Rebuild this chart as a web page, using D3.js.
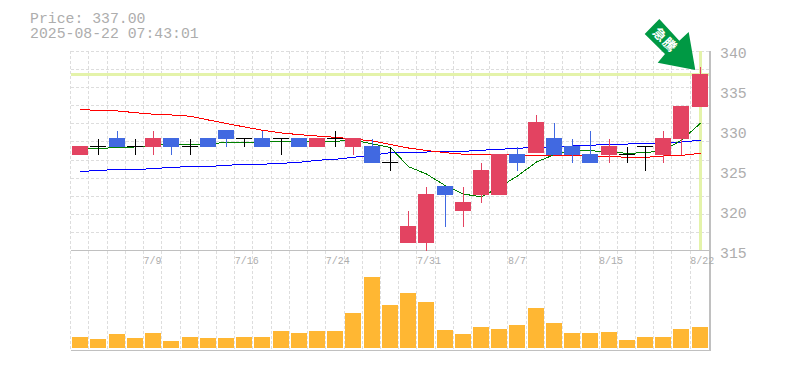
<!DOCTYPE html>
<html>
<head>
<meta charset="utf-8">
<script src="https://cdn.jsdelivr.net/npm/d3@7"></script>
<style>
  html, body { margin: 0; padding: 0; background: #fff; }
  svg { display: block; }
  text { font-family: "Liberation Mono", monospace; fill: #adadad; }
</style>
</head>
<body>
<div id="chart"></div>
<script>
var dates = ["7/3","7/4","7/7","7/8","7/9","7/10","7/11","7/14","7/15","7/16","7/17","7/18","7/22","7/23","7/24","7/25","7/28","7/29","7/30","7/31","8/1","8/4","8/5","8/6","8/7","8/8","8/12","8/13","8/14","8/15","8/18","8/19","8/20","8/21","8/22"];
var opens =  [327,328,329,328,328,329,328,329,330,329,329,329,329,328,329,328,328,326,316,316,323,320,322,322,327,327.3,329,328,327,327,327,328,327,329,333];
var closes = [328,328,328,328,329,328,328,328,329,329,328,329,328,329,329,329,326,326,318,322,322,321,325,327,326,331,327,327,326,328,327,328,329,333,337];
var highs =  [328,329,330,329,330,329,329,329,330,329,330,329,329,329,330,329,329,328,320,323,323,323,326,327,328,332,331,329,330,329,328,328,330,333,338];
var lows =   [327,327,328,327,327,327,327,328,328,328,328,327,328,328,328,327,326,325,316,315,318,318,321,322,325,327.3,327,326,326,326,326,325,326,327,333];
var volumes = [11,9,14,10,15,7,11,10,10,11,11,17,15,17,17,35,71,43,55,46,18,14,21,19,23,40,25,15,15,16,8,11,11,19,21];
var maShort = [327.69,327.73,327.9,327.94,328.13,328.26,328.28,328.31,328.53,328.53,328.56,328.65,328.69,328.56,328.65,328.81,328.31,327.88,325.48,324.56,323.1,322.06,321.69,322.94,324.31,326.06,327,327.48,327.48,327.31,327.15,327.23,327.48,328.81,330.9];
var maMid = [332.63,332.5,332.44,332.23,332.03,331.94,331.78,331.31,330.88,330.44,330.03,329.69,329.48,329.31,329.15,328.94,328.69,328.25,327.81,327.5,327.23,327.03,326.94,326.94,326.94,326.88,326.88,326.88,326.81,326.75,326.65,326.65,326.81,326.88,327.15];
var maLong = [324.86,325.03,325.1,325.13,325.23,325.4,325.48,325.5,325.65,325.78,325.78,325.9,326.03,326.28,326.4,326.65,326.9,327.23,327.28,327.31,327.38,327.4,327.53,327.65,327.78,327.88,327.94,328.06,328.15,328.28,328.31,328.4,328.44,328.56,328.78];
var priceTicks = [315,320,325,330,335,340];
var dateTicks = ["7/9","7/16","7/24","7/31","8/7","8/15","8/22"];
var lastPrice = 337;
var titleLines = ["Price: 337.00", "2025-08-22 07:43:01"];
var badge = "急騰";

var svgWidth = 785, svgHeight = 370;
var left = 70.7, right = 710;
var priceTop = 50.5, priceBottom = 250.5, volTop = 277, volBottom = 348, panelBottom = 350.5;
var gridRows = 11;
var bodyWidth = 16;

var svg = d3.select("#chart").append("svg")
  .attr("width", svgWidth)
  .attr("height", svgHeight);

var x = d3.scaleBand().domain(dates).range([left, left + 18.22 * dates.length]);
var bodyX = d => Math.round(x(d) + 1.5);
var cx = d => bodyX(d) + 8.5;
var y = d3.scaleLinear().domain([315, 340]).range([priceBottom, priceTop]);
var yVol = d3.scaleLinear().domain([0, d3.max(volumes)]).range([volBottom, volTop]);

// grid
var grid = svg.append("g").attr("stroke", "#ddd").attr("stroke-dasharray", "3,2").attr("shape-rendering", "crispEdges");
grid.selectAll(".vgrid").data(dates).enter().append("line")
  .attr("x1", d => x(d)).attr("x2", d => x(d))
  .attr("y1", priceTop).attr("y2", panelBottom);
grid.selectAll(".hgrid").data(d3.range(gridRows)).enter().append("line")
  .attr("x1", left).attr("x2", right)
  .attr("y1", i => Math.round(priceTop + i * (priceBottom - priceTop) / gridRows) + 0.5)
  .attr("y2", i => Math.round(priceTop + i * (priceBottom - priceTop) / gridRows) + 0.5);

// current price cross
var cross = svg.append("g").attr("stroke", "#e4f3aa").attr("stroke-width", 3).attr("shape-rendering", "crispEdges");
cross.append("line").attr("x1", left).attr("x2", right).attr("y1", y(lastPrice)).attr("y2", y(lastPrice));
cross.append("line").attr("x1", cx("8/22")).attr("x2", cx("8/22")).attr("y1", priceTop).attr("y2", priceBottom);

// panel borders
var border = svg.append("g").attr("stroke", "#c0c0c0").attr("stroke-width", 1.5).attr("shape-rendering", "crispEdges");
border.append("line").attr("x1", left).attr("x2", right).attr("y1", priceBottom).attr("y2", priceBottom);
border.append("line").attr("x1", left).attr("x2", right).attr("y1", panelBottom).attr("y2", panelBottom);
border.append("line").attr("x1", right).attr("x2", right).attr("y1", priceTop).attr("y2", panelBottom);

// volume
svg.selectAll(".vol").data(volumes).enter().append("rect")
  .attr("class", "vol")
  .attr("x", (d, i) => bodyX(dates[i]))
  .attr("y", d => yVol(d))
  .attr("width", bodyWidth)
  .attr("height", d => volBottom - yVol(d))
  .attr("fill", "#ffb733")
  .attr("shape-rendering", "crispEdges");

// moving averages go under the candles
var maLine = d3.line().x((d, i) => cx(dates[i])).y(d => y(d));
[[maLong, "#0000ff"], [maMid, "#ff0000"], [maShort, "#008000"]].forEach(function(s) {
  svg.append("path")
    .attr("d", maLine(s[0]))
    .attr("fill", "none")
    .attr("stroke", s[1])
    .attr("shape-rendering", "crispEdges");
});

// candles
function candleColor(i) {
  if (closes[i] > opens[i]) return "#e34361";
  if (closes[i] < opens[i]) return "#4169e1";
  return "#000";
}
svg.selectAll(".wick").data(dates).enter().append("line")
  .attr("class", "wick")
  .attr("x1", d => cx(d)).attr("x2", d => cx(d))
  .attr("y1", (d, i) => y(highs[i]))
  .attr("y2", (d, i) => y(lows[i]))
  .attr("stroke", (d, i) => candleColor(i))
  .attr("shape-rendering", "crispEdges");
svg.selectAll(".body").data(dates).enter().append("rect")
  .attr("class", "body")
  .attr("x", d => bodyX(d))
  .attr("y", (d, i) => Math.floor(y(Math.max(opens[i], closes[i]))))
  .attr("width", bodyWidth)
  .attr("height", (d, i) => opens[i] == closes[i] ? 1 : y(Math.min(opens[i], closes[i])) - y(Math.max(opens[i], closes[i])) + 1)
  .attr("fill", (d, i) => candleColor(i))
  .attr("shape-rendering", "crispEdges");

// axes
var yAxis = svg.append("g")
  .attr("transform", "translate(720,2)")
  .call(d3.axisRight(y).tickValues(priceTicks).tickSize(0).tickPadding(0));
yAxis.select(".domain").remove();
yAxis.selectAll("text").style("font-size", "14.8px").attr("x", 0);

var xAxis = svg.append("g")
  .attr("transform", "translate(0," + (priceBottom + 6) + ")")
  .call(d3.axisBottom(x).tickValues(dateTicks).tickSize(0).tickPadding(0));
xAxis.select(".domain").remove();
xAxis.selectAll("text")
  .style("font-size", "10px")
  .style("text-anchor", "start")
  .attr("x", -x.step() / 2);

// header
svg.selectAll(".title").data(titleLines).enter().append("text")
  .attr("class", "title")
  .attr("x", 30)
  .attr("y", (d, i) => 23 + i * 14.5)
  .style("font-size", "14.8px")
  .text(d => d);

// arrow badge on the last candle
svg.append("polygon")
  .attr("points", "659.3,19 644.7,34 665,54 657.7,62.7 695.3,70 688.7,32 679.3,40.7")
  .attr("fill", "#009944");
svg.append("text")
  .attr("transform", "translate(665,40) rotate(45)")
  .attr("text-anchor", "middle")
  .attr("dy", "0.35em")
  .style("font-family", '"Noto Sans CJK JP"')
  .style("font-size", "13px")
  .style("font-weight", "700")
  .style("fill", "#fff")
  .style("letter-spacing", "1px")
  .text(badge);
</script>
</body>
</html>
